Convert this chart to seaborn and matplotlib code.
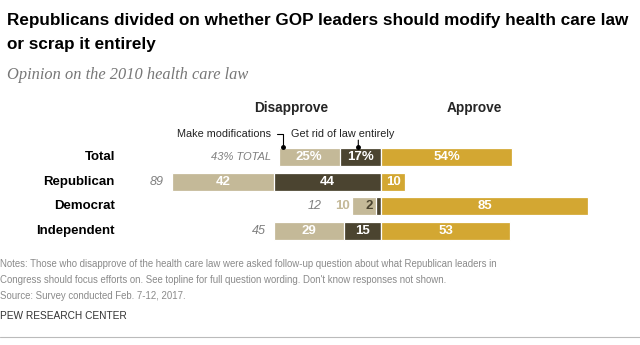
import matplotlib
matplotlib.use("Agg")
import matplotlib.pyplot as plt
import seaborn as sns
import pandas as pd
from matplotlib import font_manager

sns.set_theme(style="white")
avail = {f.name for f in font_manager.fontManager.ttflist}
SANS = "Liberation Sans Narrow" if "Liberation Sans Narrow" in avail else "Liberation Sans"
plt.rcParams['font.family'] = [SANS, 'DejaVu Sans']

# ---- data ----
categories = ["Total", "Republican", "Democrat", "Independent"]
modify = [25, 42, 10, 29]
get_rid = [17, 44, 2, 15]
approve = [54, 10, 85, 53]
disapprove_total = [43, 89, 12, 45]

LIGHT = "#C4B998"
DARK = "#4B4430"
GOLD = "#D3A732"
GRAY = "#7f7f7f"

W, H = 640, 345
fig = plt.figure(figsize=(6.4, 3.45), dpi=100)

# axes spans full width; zero at px 381, 2.435 px per unit
PXU = 2.435
ZERO = 381
xmin = -ZERO / PXU
xmax = (W - ZERO) / PXU
top_px, row_px = 145, 24.5
bot_px = top_px + 4 * row_px
ax = fig.add_axes([0, 1 - bot_px / H, 1, (bot_px - top_px) / H])

df = pd.DataFrame({
    "cat": categories,
    "dis_all": [-(m + g) for m, g in zip(modify, get_rid)],
    "dis_rid": [-g for g in get_rid],
    "app": approve,
})
bw = 18 / row_px
kw = dict(orient="h", width=bw, edgecolor="white", linewidth=0.9, ax=ax, order=categories)
sns.barplot(data=df, x="dis_all", y="cat", color=LIGHT, saturation=1, **kw)
sns.barplot(data=df, x="dis_rid", y="cat", color=DARK, saturation=1, **kw)
sns.barplot(data=df, x="app", y="cat", color=GOLD, saturation=1, **kw)

ax.set_xlim(xmin, xmax)
ax.set_ylim(3.5, -0.5)
ax.set_axis_off()

def u(px):
    return px / PXU

lab = dict(ha="center", va="center", fontsize=9.5, fontweight="bold", color="white")
for i, c in enumerate(categories):
    m, g, a, t = modify[i], get_rid[i], approve[i], disapprove_total[i]
    pct = "%" if i == 0 else ""
    # category label
    ax.text(u(115 - ZERO), i, c, ha="right", va="center", fontsize=9.5,
            fontweight="bold", color="black")
    if c == "Democrat":
        ax.text(-(m + g) - u(2), i, str(m), ha="right", va="center", fontsize=9.5,
                fontweight="bold", color=LIGHT)
        ax.text(-g - u(3), i, str(g), ha="right", va="center", fontsize=9.5,
                fontweight="bold", color=DARK)
        ax.text(-(m + g) - u(30), i, str(t), ha="right", va="center", fontsize=9,
                style="italic", color=GRAY)
    else:
        ax.text(-g - m / 2, i, f"{m}{pct}", **lab)
        ax.text(-g / 2, i, f"{g}{pct}", **lab)
        tl = "43% TOTAL" if i == 0 else str(t)
        ax.text(-(m + g) - u(8), i, tl, ha="right", va="center", fontsize=8 if i == 0 else 9,
                style="italic", color=GRAY)
    ax.text(a / 2, i, f"{a}{pct}", **lab)

# callouts
x_mod = -(modify[0] + get_rid[0]) + u(4)
x_rid = -get_rid[0] / 2 - u(2)
y_txt = -0.5 - 0.45
ax.annotate("Make modifications", xy=(x_mod, -0.5 + 0.07), xytext=(x_mod - u(12), y_txt),
            ha="right", va="center", fontsize=7.8, color="#222222", annotation_clip=False,
            arrowprops=dict(arrowstyle="-", color="black", lw=0.8,
                            connectionstyle="angle,angleA=0,angleB=90,rad=0",
                            shrinkA=2, shrinkB=0))
ax.plot([x_mod], [-0.5 + 0.07], "o", color="black", ms=2.5, clip_on=False)
ax.text(x_rid - u(67), y_txt, "Get rid of law entirely", ha="left", va="center",
        fontsize=7.8, color="#222222")
ax.annotate("", xy=(x_rid, -0.5 + 0.07), xytext=(x_rid, -0.5 - 0.2), annotation_clip=False,
            arrowprops=dict(arrowstyle="-", color="black", lw=0.8, shrinkA=0, shrinkB=0))
ax.plot([x_rid], [-0.5 + 0.07], "o", color="black", ms=2.5, clip_on=False)

def fy(py):
    return 1 - py / H

fig.text(291 / W, fy(108), "Disapprove", ha="center", va="center", fontsize=9.8, fontweight="bold")
fig.text(474 / W, fy(108), "Approve", ha="center", va="center", fontsize=9.8, fontweight="bold")

fig.text(7 / W, fy(20), "Republicans divided on whether GOP leaders should modify health care law",
         ha="left", va="center", fontsize=12.3, fontweight="bold", color="black")
fig.text(7 / W, fy(45), "or scrap it entirely", ha="left", va="center", fontsize=12.3,
         fontweight="bold", color="black")
fig.text(7 / W, fy(75), "Opinion on the 2010 health care law", ha="left", va="center",
         fontsize=11.8, style="italic", color="#777777", family=["Liberation Serif", "DejaVu Serif"])

notes = ("Notes: Those who disapprove of the health care law were asked follow-up question about what Republican leaders in\n"
         "Congress should focus efforts on. See topline for full question wording. Don't know responses not shown.\n"
         "Source: Survey conducted Feb. 7-12, 2017.")
fig.text(0 / W, fy(259), notes, ha="left", va="top", fontsize=6.9, color="#8a8a8a", linespacing=1.75)
fig.text(0 / W, fy(316), "PEW RESEARCH CENTER", ha="left", va="center", fontsize=7.3, color="#333333")
fig.add_artist(plt.Line2D([0, 1], [fy(337), fy(337)], color="#bbbbbb", lw=0.8))

fig.savefig("out.png", dpi=100, facecolor="white")
